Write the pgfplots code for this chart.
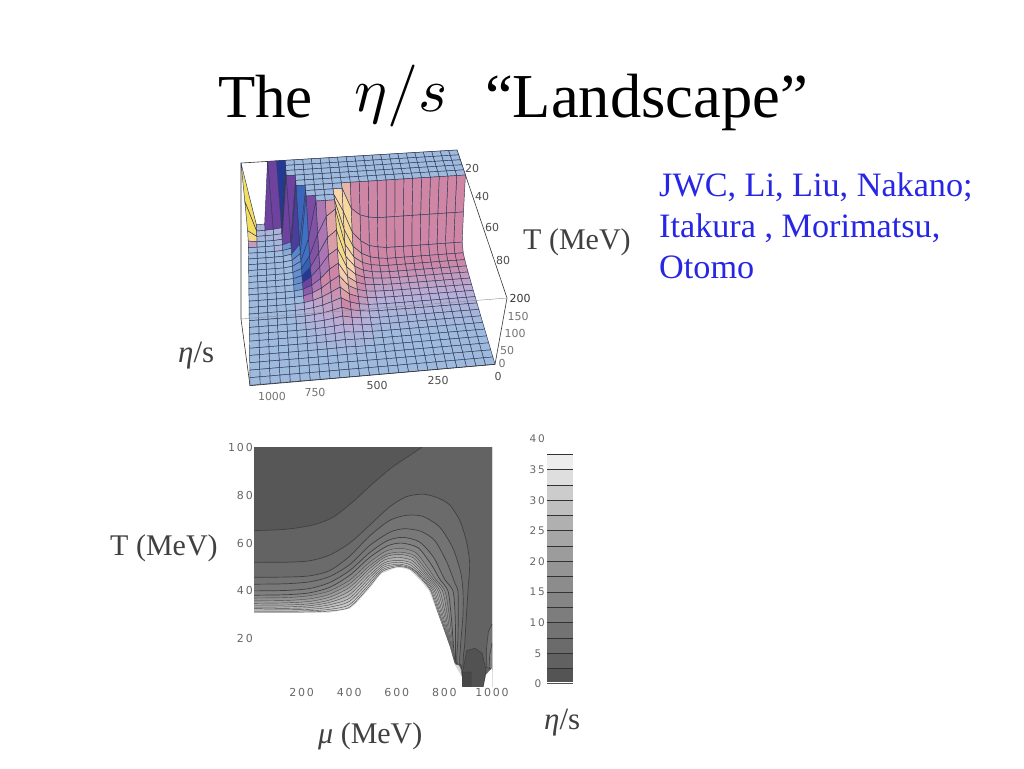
\documentclass[border=0pt]{standalone}
\usepackage{fontspec}
\setmainfont{Liberation Serif}
\newfontfamily\lab{DejaVu Sans}
\usepackage{pgfplots}
\pgfplotsset{compat=1.18}
\definecolor{bluetxt}{RGB}{38,38,228}
\newcommand\PX[2]{(#1pt,{768pt-#2pt})}
\newcommand\Sv{(1-\thisrow{m}/1000)}
\newcommand\Tv{(\thisrow{T}/100)}
\newcommand\Qv{(1-\thisrow{e}/200)}
\newcommand\Wv{(0.02667*\Sv-0.19298*\Tv+1+0.0705*\Qv)}
\pgfkeys{/pgfplots/table/proj/.style={
  x expr={(228.19*\Sv-46.51*\Tv+241+24.9*\Qv)/\Wv},
  y expr={768-(-9*\Sv+94.44*\Tv+163+81*\Qv)/\Wv},
  z expr=\thisrow{e}}}
\pgfplotsset{lev/.style={draw=black!75,line width=0.7pt,smooth,tension=0.45},
 levi/.style={draw=black!70,line width=0.42pt,smooth,tension=0.45}}
\begin{document}
\begin{tikzpicture}[x=1pt,y=1pt]
\path[use as bounding box] (0,0) rectangle (1024pt,768pt);
\begin{axis}[at={(0pt,0pt)},anchor=south west,width=1024pt,height=768pt,scale only axis,
  xmin=0,xmax=1024,ymin=0,ymax=768,zmin=0,zmax=200,view={0}{90},hide axis,clip=false,
  colormap={land}{rgb255(0cm)=(158,186,220);rgb255(1cm)=(186,174,214);rgb255(2cm)=(206,134,164);
   rgb255(3cm)=(250,214,170);rgb255(4cm)=(244,222,96);rgb255(5cm)=(172,118,178);rgb255(6cm)=(112,66,160);
   rgb255(7cm)=(36,56,150);rgb255(8cm)=(62,112,196);rgb255(9cm)=(158,186,220)},
  point meta min=0,point meta max=9]
\addplot3[black!80,line width=0.6pt,no markers] table[proj]{
m T e
1000 100 200
1000 0 200
0 0 200
0 100 200
0 100 0
};
\addplot3[surf,shader=flat corner,z buffer=none,mesh/ordering=x varies,mesh/cols=26,mesh/rows=26,
  draw={rgb,255:red,48;green,56;blue,90},line width=0.45pt,point meta=explicit]
 table[proj,meta=c,row sep=\\]{
m T e c\\
0 0 200 0\\40 0 200 0\\80 0 200 0\\120 0 200 0\\160 0 200 0\\200 0 200 0\\240 0 200 0\\280 0 200 0\\320 0 200 0\\360 0 200 0\\400 0 200 0\\440 0 200 0\\480 0 200 0\\520 0 200 0\\560 0 200 0\\600 0 200 0\\640 0 200 0\\680 0 200 0\\720 0 200 0\\760 0 200 0\\800 0 200 7\\840 0 200 6\\880 0 200 6\\920 0 9 .5\\960 0 9 4\\1000 0 200 0\\
0 4 200 0\\40 4 200 0\\80 4 200 0\\120 4 200 0\\160 4 200 0\\200 4 200 0\\240 4 200 0\\280 4 200 0\\320 4 200 0\\360 4 200 0\\400 4 200 0\\440 4 200 0\\480 4 200 0\\520 4 200 0\\560 4 200 0\\600 4 200 0\\640 4 200 0\\680 4 200 0\\720 4 200 0\\760 4 200 0\\800 4 200 7\\840 4 10 .5\\880 4 7 .5\\920 4 5.5 .5\\960 4 5 4\\1000 4 100 0\\
0 8 200 0\\40 8 200 0\\80 8 200 0\\120 8 200 0\\160 8 200 0\\200 8 200 0\\240 8 200 0\\280 8 200 0\\320 8 200 0\\360 8 200 0\\400 8 200 0\\440 8 200 0\\480 8 200 0\\520 8 200 0\\560 8 200 0\\600 8 200 0\\640 8 200 0\\680 8 200 0\\720 8 200 0\\760 8 200 0\\800 8 200 7\\840 8 8 .5\\880 8 5.5 .3\\920 8 5 .3\\960 8 4.8 3.5\\1000 8 25 0\\
0 12 200 0\\40 12 200 0\\80 12 200 0\\120 12 200 0\\160 12 200 0\\200 12 200 0\\240 12 200 0\\280 12 200 0\\320 12 200 0\\360 12 200 0\\400 12 200 0\\440 12 200 0\\480 12 200 0\\520 12 200 0\\560 12 200 0\\600 12 200 0\\640 12 200 0\\680 12 200 0\\720 12 200 0\\760 12 200 6\\800 12 200 6\\840 12 7 .3\\880 12 5 0\\920 12 4.8 0\\960 12 4.6 1.5\\1000 12 9 0\\
0 16 200 0\\40 16 200 0\\80 16 200 0\\120 16 200 0\\160 16 200 0\\200 16 200 0\\240 16 200 0\\280 16 200 0\\320 16 200 0\\360 16 200 0\\400 16 200 0\\440 16 200 0\\480 16 200 0\\520 16 200 0\\560 16 200 0\\600 16 200 0\\640 16 200 0\\680 16 200 0\\720 16 200 0\\760 16 200 6\\800 16 14 8.5\\840 16 6.5 .5\\880 16 5 0\\920 16 4.7 0\\960 16 4.6 0\\1000 16 6 0\\
0 20 200 2\\40 20 200 2\\80 20 200 2\\120 20 200 2\\160 20 200 2\\200 20 200 2\\240 20 200 2\\280 20 200 2\\320 20 200 2\\360 20 200 2\\400 20 200 2\\440 20 200 2\\480 20 200 2\\520 20 200 2.6\\560 20 200 0\\600 20 200 0\\640 20 200 0\\680 20 200 0\\720 20 200 7.8\\760 20 200 6.5\\800 20 11 8.8\\840 20 6 0\\880 20 4.8 0\\920 20 4.6 0\\960 20 4.5 0\\1000 20 5 0\\
0 24 106 2\\40 24 106 2\\80 24 106 2\\120 24 106 2\\160 24 106 2\\200 24 106 2\\240 24 106 2\\280 24 106 2\\320 24 106 2\\360 24 106 2\\400 24 106 2\\440 24 110 2\\480 24 118 2.2\\520 24 140 3.2\\560 24 200 3\\600 24 200 0\\640 24 200 0\\680 24 200 0\\720 24 200 8\\760 24 40 8.3\\800 24 10 9\\840 24 5.5 0\\880 24 4.5 0\\920 24 4.5 0\\960 24 4.5 0\\1000 24 4.5 0\\
0 28 28 2\\40 28 28 2\\80 28 28 2\\120 28 28 2\\160 28 28 2\\200 28 28 2\\240 28 28 2\\280 28 28 2\\320 28 28 2\\360 28 28 2\\400 28 32 2\\440 28 38 2\\480 28 55 2.2\\520 28 85 3.3\\560 28 150 3.3\\600 28 200 0\\640 28 200 0\\680 28 200 5.8\\720 28 200 8\\760 28 28 8.5\\800 28 8.5 0\\840 28 5 0\\880 28 4.3 0\\920 28 4.3 0\\960 28 4.3 0\\1000 28 4.3 0\\
0 32 11 2\\40 32 11 2\\80 32 11 2\\120 32 11 2\\160 32 11 2\\200 32 11 2\\240 32 11 2\\280 32 11 2\\320 32 11 2\\360 32 11 2\\400 32 14 2\\440 32 20 2.1\\480 32 33 2.3\\520 32 58 3.3\\560 32 112 3.5\\600 32 200 2.2\\640 32 200 5\\680 32 200 5.7\\720 32 90 8\\760 32 22 8.5\\800 32 7.5 0\\840 32 4.5 0\\880 32 4.1 0\\920 32 4.1 0\\960 32 4.1 0\\1000 32 4.1 0\\
0 36 7 1.9\\40 36 7 1.9\\80 36 7 1.9\\120 36 7 1.9\\160 36 7 1.9\\200 36 7 1.9\\240 36 7 1.9\\280 36 7 1.9\\320 36 7 1.9\\360 36 7 1.9\\400 36 9 1.9\\440 36 13 2\\480 36 22 2.3\\520 36 42 3\\560 36 84 3.6\\600 36 190 2.4\\640 36 170 5\\680 36 120 5.7\\720 36 55 7.7\\760 36 17 8.4\\800 36 6.5 0\\840 36 4.2 0\\880 36 4 0\\920 36 4 0\\960 36 4 0\\1000 36 4 0\\
0 40 5 1.7\\40 40 5 1.7\\80 40 5 1.7\\120 40 5 1.7\\160 40 5 1.7\\200 40 5 1.7\\240 40 5 1.7\\280 40 5 1.7\\320 40 5 1.7\\360 40 5 1.7\\400 40 6.5 1.7\\440 40 9 1.8\\480 40 16 2.1\\520 40 31 3\\560 40 64 3.5\\600 40 146 2.3\\640 40 125 5\\680 40 80 5.5\\720 40 38 7\\760 40 13 8.4\\800 40 5.5 0\\840 40 4 0\\880 40 3.8 0\\920 40 3.8 0\\960 40 3.8 0\\1000 40 3.8 0\\
0 44 4 1.5\\40 44 4 1.5\\80 44 4 1.5\\120 44 4 1.5\\160 44 4 1.5\\200 44 4 1.5\\240 44 4 1.5\\280 44 4 1.5\\320 44 4 1.5\\360 44 4 1.5\\400 44 5 1.5\\440 44 7 1.7\\480 44 12 2\\520 44 24 2.8\\560 44 50 3.2\\600 44 108 2.1\\640 44 90 5\\680 44 55 5.3\\720 44 27 6\\760 44 10 8.5\\800 44 5 0\\840 44 3.8 0\\880 44 3.6 0\\920 44 3.6 0\\960 44 3.6 0\\1000 44 3.6 0\\
0 48 3.2 1.3\\40 48 3.2 1.3\\80 48 3.2 1.3\\120 48 3.2 1.3\\160 48 3.2 1.3\\200 48 3.2 1.3\\240 48 3.2 1.3\\280 48 3.2 1.3\\320 48 3.2 1.3\\360 48 3.2 1.3\\400 48 4 1.3\\440 48 5.5 1.5\\480 48 9 1.9\\520 48 18 2.5\\560 48 38 2.9\\600 48 82 2\\640 48 65 2\\680 48 38 5\\720 48 19 5.5\\760 48 8 8.8\\800 48 4.5 0\\840 48 3.5 0\\880 48 3.4 0\\920 48 3.4 0\\960 48 3.4 0\\1000 48 3.4 0\\
0 52 2.6 1.1\\40 52 2.6 1.1\\80 52 2.6 1.1\\120 52 2.6 1.1\\160 52 2.6 1.1\\200 52 2.6 1.1\\240 52 2.6 1.1\\280 52 2.6 1.1\\320 52 2.6 1.1\\360 52 2.6 1.1\\400 52 3.2 1.1\\440 52 4.2 1.3\\480 52 7 1.7\\520 52 14 2.2\\560 52 29 2.6\\600 52 62 1.9\\640 52 46 1.8\\680 52 27 1.6\\720 52 14 5\\760 52 6.5 0\\800 52 4 0\\840 52 3.2 0\\880 52 3.2 0\\920 52 3.2 0\\960 52 3.2 0\\1000 52 3.2 0\\
0 56 2.2 .9\\40 56 2.2 .9\\80 56 2.2 .9\\120 56 2.2 .9\\160 56 2.2 .9\\200 56 2.2 .9\\240 56 2.2 .9\\280 56 2.2 .9\\320 56 2.2 .9\\360 56 2.2 .9\\400 56 2.6 .9\\440 56 3.3 1.1\\480 56 5.5 1.5\\520 56 11 2\\560 56 22 2.3\\600 56 46 1.7\\640 56 32 1.5\\680 56 19 1.3\\720 56 10 1\\760 56 5 .5\\800 56 3.5 0\\840 56 3 0\\880 56 3 0\\920 56 3 0\\960 56 3 0\\1000 56 3 0\\
0 60 1.9 .7\\40 60 1.9 .7\\80 60 1.9 .7\\120 60 1.9 .7\\160 60 1.9 .7\\200 60 1.9 .7\\240 60 1.9 .7\\280 60 1.9 .7\\320 60 1.9 .7\\360 60 1.9 .7\\400 60 2.2 .7\\440 60 2.7 .9\\480 60 4 1.2\\520 60 8 1.7\\560 60 16 2\\600 60 32 1.5\\640 60 22 1.3\\680 60 13 1.1\\720 60 7.5 .9\\760 60 4 .4\\800 60 3 0\\840 60 2.8 0\\880 60 2.8 0\\920 60 2.8 0\\960 60 2.8 0\\1000 60 2.8 0\\
0 64 1.6 .5\\40 64 1.6 .5\\80 64 1.6 .5\\120 64 1.6 .5\\160 64 1.6 .5\\200 64 1.6 .5\\240 64 1.6 .5\\280 64 1.6 .5\\320 64 1.6 .5\\360 64 1.6 .5\\400 64 1.8 .5\\440 64 2.2 .7\\480 64 3 1\\520 64 6 1.4\\560 64 12 1.6\\600 64 22 1.3\\640 64 15 1.1\\680 64 9 .9\\720 64 5.5 .7\\760 64 3.2 .3\\800 64 2.7 0\\840 64 2.5 0\\880 64 2.6 0\\920 64 2.6 0\\960 64 2.6 0\\1000 64 2.6 0\\
0 68 1.4 .3\\40 68 1.4 .3\\80 68 1.4 .3\\120 68 1.4 .3\\160 68 1.4 .3\\200 68 1.4 .3\\240 68 1.4 .3\\280 68 1.4 .3\\320 68 1.4 .3\\360 68 1.4 .3\\400 68 1.5 .3\\440 68 1.8 .5\\480 68 2.4 .8\\520 68 4.5 1.1\\560 68 8.5 1.3\\600 68 15 1.1\\640 68 10 .9\\680 68 6 .7\\720 68 4 .5\\760 68 2.6 .2\\800 68 2.4 0\\840 68 2.3 0\\880 68 2.4 0\\920 68 2.4 0\\960 68 2.4 0\\1000 68 2.4 0\\
0 72 1.2 .2\\40 72 1.2 .2\\80 72 1.2 .2\\120 72 1.2 .2\\160 72 1.2 .2\\200 72 1.2 .2\\240 72 1.2 .2\\280 72 1.2 .2\\320 72 1.2 .2\\360 72 1.2 .2\\400 72 1.3 .2\\440 72 1.5 .3\\480 72 1.9 .6\\520 72 3.3 .8\\560 72 6 1\\600 72 10 .9\\640 72 6.5 .7\\680 72 4.2 .5\\720 72 3 .3\\760 72 2.2 .1\\800 72 2.1 0\\840 72 2.1 0\\880 72 2.2 0\\920 72 2.2 0\\960 72 2.2 0\\1000 72 2.2 0\\
0 76 1 0\\40 76 1 0\\80 76 1 0\\120 76 1 0\\160 76 1 0\\200 76 1 0\\240 76 1 0\\280 76 1 0\\320 76 1 0\\360 76 1 0\\400 76 1.1 0\\440 76 1.2 .2\\480 76 1.5 .4\\520 76 2.5 .6\\560 76 4.2 .7\\600 76 7 .6\\640 76 4.5 .5\\680 76 3 .3\\720 76 2.4 .2\\760 76 1.9 0\\800 76 1.9 0\\840 76 1.9 0\\880 76 2 0\\920 76 2 0\\960 76 2 0\\1000 76 2 0\\
0 80 .9 0\\40 80 .9 0\\80 80 .9 0\\120 80 .9 0\\160 80 .9 0\\200 80 .9 0\\240 80 .9 0\\280 80 .9 0\\320 80 .9 0\\360 80 .9 0\\400 80 .9 0\\440 80 1 0\\480 80 1.2 .2\\520 80 1.9 .3\\560 80 3 .4\\600 80 4.5 .4\\640 80 3 .3\\680 80 2.2 .2\\720 80 1.9 .1\\760 80 1.6 0\\800 80 1.7 0\\840 80 1.7 0\\880 80 1.8 0\\920 80 1.8 0\\960 80 1.8 0\\1000 80 1.8 0\\
0 84 .8 0\\40 84 .8 0\\80 84 .8 0\\120 84 .8 0\\160 84 .8 0\\200 84 .8 0\\240 84 .8 0\\280 84 .8 0\\320 84 .8 0\\360 84 .8 0\\400 84 .8 0\\440 84 .9 0\\480 84 1 0\\520 84 1.4 .1\\560 84 2 .2\\600 84 3 .2\\640 84 2.2 .1\\680 84 1.7 0\\720 84 1.5 0\\760 84 1.4 0\\800 84 1.5 0\\840 84 1.5 0\\880 84 1.6 0\\920 84 1.6 0\\960 84 1.6 0\\1000 84 1.6 0\\
0 88 .7 0\\40 88 .7 0\\80 88 .7 0\\120 88 .7 0\\160 88 .7 0\\200 88 .7 0\\240 88 .7 0\\280 88 .7 0\\320 88 .7 0\\360 88 .7 0\\400 88 .7 0\\440 88 .7 0\\480 88 .8 0\\520 88 1.1 0\\560 88 1.4 0\\600 88 2 0\\640 88 1.6 0\\680 88 1.3 0\\720 88 1.2 0\\760 88 1.2 0\\800 88 1.3 0\\840 88 1.4 0\\880 88 1.5 0\\920 88 1.5 0\\960 88 1.5 0\\1000 88 1.5 0\\
0 92 .6 0\\40 92 .6 0\\80 92 .6 0\\120 92 .6 0\\160 92 .6 0\\200 92 .6 0\\240 92 .6 0\\280 92 .6 0\\320 92 .6 0\\360 92 .6 0\\400 92 .6 0\\440 92 .6 0\\480 92 .7 0\\520 92 .8 0\\560 92 1 0\\600 92 1.5 0\\640 92 1.2 0\\680 92 1 0\\720 92 1 0\\760 92 1 0\\800 92 1.1 0\\840 92 1.3 0\\880 92 1.4 0\\920 92 1.4 0\\960 92 1.4 0\\1000 92 1.4 0\\
0 96 .5 0\\40 96 .5 0\\80 96 .5 0\\120 96 .5 0\\160 96 .5 0\\200 96 .5 0\\240 96 .5 0\\280 96 .5 0\\320 96 .5 0\\360 96 .5 0\\400 96 .5 0\\440 96 .5 0\\480 96 .5 0\\520 96 .6 0\\560 96 .7 0\\600 96 1 0\\640 96 .9 0\\680 96 .8 0\\720 96 .8 0\\760 96 .9 0\\800 96 1 0\\840 96 1.2 0\\880 96 1.3 0\\920 96 1.3 0\\960 96 1.3 0\\1000 96 1.3 0\\
0 100 .4 0\\40 100 .4 0\\80 100 .4 0\\120 100 .4 0\\160 100 .4 0\\200 100 .4 0\\240 100 .4 0\\280 100 .4 0\\320 100 .4 0\\360 100 .4 0\\400 100 .4 0\\440 100 .4 0\\480 100 .4 0\\520 100 .5 0\\560 100 .5 0\\600 100 .6 0\\640 100 .6 0\\680 100 .6 0\\720 100 .7 0\\760 100 .8 0\\800 100 .9 0\\840 100 1 0\\880 100 1.2 0\\920 100 1.2 0\\960 100 1.2 0\\1000 100 1.2 0\\
};
\addplot3[black!80,line width=0.6pt,no markers] table[proj]{
m T e
0 100 0
1000 100 0
1000 100 200
};
\addplot3[black!45,line width=0.4pt,no markers] table[proj]{
m T e
1000 100 200
0 100 200
};
\end{axis}
% contour plot
\begin{axis}[at={(254pt,81.5pt)},anchor=south west,width=238pt,height=239pt,scale only axis,
  xmin=0,xmax=1000,ymin=0,ymax=100,axis line style={draw=none},major tick length=0pt,
  xtick={200,400,600,800,1000},xticklabels={2\,0\,0,4\,0\,0,6\,0\,0,8\,0\,0,1\,0\,0\,0},
  ytick={20,40,60,80,100},yticklabels={2\,0,4\,0,6\,0,8\,0,1\,0\,0},
  tick label style={font=\lab\fontsize{11}{11}\selectfont,text=black!60,inner sep=1pt},
  xticklabel style={yshift=-1pt},
  clip=true,axis on top=false]
\addplot[draw=none,fill=black!66] coordinates {(-50,-50)(1050,-50)(1050,110)(-50,110)} -- cycle;
\addplot[lev,fill=black!61] coordinates {(-50,65)(0,65.2)(136,65.8)(248,67.6)(332,70.8)(416,77.3)(500,85)(584,92)(703,100)(760,106)(1050,110)(1050,-50)(-50,-50)} -- cycle;
\addplot[lev,fill=black!58] coordinates {(-50,52)(0,52)(136,52)(234,52.6)(318,55)(402,60)(486,67.5)(570,75.2)(640,79.4)(709,80.5)(770,79)(822,76)(864,69.6)(892,61)(906,51.5)(899,40)(892,29)(885,17)(878,7)(878,-50)(-50,-50)} -- cycle;
\addplot[lev,fill=black!55] coordinates {(-50,45.7)(0,45.7)(136,45.8)(234,46.3)(318,48.5)(402,54.5)(486,63)(570,69.5)(640,71.6)(709,71.2)(781,66.6)(835,58)(868,48)(878,40)(878,30)(870,20)(864,10)(874,4)(874,-50)(-50,-50)} -- cycle;
\addplot[lev,fill=black!53] coordinates {(-50,42.8)(0,42.8)(136,43)(234,43.8)(318,46)(402,51)(486,59)(570,64.5)(630,66)(700,65)(760,61)(810,52)(845,43)(857,40)(858,30)(857,20)(852,10)(874,4)(874,-50)(-50,-50)} -- cycle;
\addplot[lev,fill=black!50] coordinates {(-50,40)(0,40)(136,40.2)(234,41)(318,43.5)(402,48.5)(486,56)(560,61)(625,62.4)(695,60.5)(755,54)(800,45)(836,40)(845,30)(847,20)(848,10)(874,4)(874,-50)(-50,-50)} -- cycle;
\addplot[lev,fill=black!47] coordinates {(-50,38.2)(0,38.2)(136,38.4)(234,39.2)(318,41.5)(402,46.5)(486,54)(560,58.8)(620,60)(690,58)(745,51)(780,45)(815,40)(828,30)(836,20)(845,10)(874,4)(874,-50)(-50,-50)} -- cycle;
\addplot[levi,fill=black!43] coordinates {(-50,37)(0,37)(136,37.2)(234,38)(318,40)(402,44.5)(486,52)(555,56.7)(616,57.8)(680,56)(735,49)(762,45)(802,40)(820,30)(832,20)(844,10)(874,4)(874,-50)(-50,-50)} -- cycle;
\addplot[levi,fill=black!39] coordinates {(-50,35.8)(0,35.8)(136,36)(234,36.7)(318,38.6)(402,43)(486,50.5)(555,55.2)(614,56.2)(675,54.7)(724,48.7)(752,45)(792,40)(812,30)(827,20)(843,10)(874,4)(874,-50)(-50,-50)} -- cycle;
\addplot[levi,fill=black!35] coordinates {(-50,34.8)(0,34.8)(136,35)(234,35.6)(318,37.4)(402,41.5)(486,49.3)(552,54.2)(612,55.3)(670,53.8)(715,48.5)(743,45)(781,40)(805,30)(823,20)(842,10)(874,4)(874,-50)(-50,-50)} -- cycle;
\addplot[levi,fill=black!31] coordinates {(-50,34)(0,34)(136,34.1)(234,34.6)(318,36.2)(402,40)(486,48)(550,53)(610,54)(665,52.7)(705,48.6)(735,45)(773,40)(799,30)(820,20)(842,10)(874,4)(874,-50)(-50,-50)} -- cycle;
\addplot[levi,fill=black!28] coordinates {(-50,33.2)(0,33.2)(136,33.3)(234,33.8)(318,35.2)(402,38.5)(486,46.7)(548,51.8)(608,52.8)(660,51.8)(695,48.6)(727,45)(765,40)(793,30)(818,20)(841,10)(874,4)(874,-50)(-50,-50)} -- cycle;
\addplot[levi,fill=black!25] coordinates {(-50,32.6)(0,32.6)(136,32.7)(234,33)(318,34.2)(402,37)(486,45.5)(545,50.8)(606,52)(655,51)(686,48.5)(720,45)(758,40)(788,30)(816,20)(841,10)(874,4)(874,-50)(-50,-50)} -- cycle;
\addplot[levi,fill=black!22] coordinates {(-50,32)(0,32)(136,32.1)(234,32.3)(318,33.2)(402,35.7)(486,44.2)(542,49.8)(604,51.2)(650,50.3)(680,48.3)(714,45)(752,40)(783,30)(814,20)(841,10)(874,4)(874,-50)(-50,-50)} -- cycle;
\addplot[levi,fill=black!19] coordinates {(-50,31.5)(0,31.5)(136,31.5)(234,31.7)(318,32.3)(402,34.3)(486,43)(540,48.9)(602,50.6)(645,50)(672,48.6)(708,45)(746,40)(780,30)(813,20)(841,10)(874,4)(874,-50)(-50,-50)} -- cycle;
\addplot[levi,fill=black!16] coordinates {(-50,31.1)(0,31.1)(136,31.1)(234,31.2)(318,31.6)(402,33.2)(486,42)(538,48.1)(600,50.1)(640,49.8)(665,48.6)(703,45)(742,40)(776,30)(811.5,20)(841,10)(874,4)(874,-50)(-50,-50)} -- cycle;
\addplot[draw=none,fill=white] coordinates {(-50,30.8)(0,30.8)(136,30.8)(234,30.8)(318,30.9)(402,32.5)(430,34.8)(486,41)(535,47.2)(598,49.7)(632,49.4)(655,48.6)(697,44.5)(735,40)(781,28)(823,16.5)(844,9)(873,4)(874,-50)(-50,-50)} -- cycle;
\addplot[draw=black!75,line width=0.6pt,fill=black!55] coordinates {(1050,26)(1000,26)(985,23)(977,16)(978,8)(1000,7)(1050,7)} -- cycle;
\addplot[draw=black!75,line width=0.6pt,fill=black!50] coordinates {(1050,18)(1000,18)(990,13)(988,8)(1000,7)(1050,7)} -- cycle;
\addplot[draw=black!75,line width=0.6pt,fill=black!68] coordinates {(876,6)(894,15)(928,16)(958,14)(975,7)(955,-5)(878,-5)} -- cycle;
\addplot[draw=black!75,line width=0.5pt,fill=black!72] coordinates {(876,6)(912,6)(912,-5)(878,-5)} -- cycle;
\addplot[draw=none,fill=white] coordinates {(955,-5)(975,5)(1000,7.6)(1050,7.6)(1050,-5)} -- cycle;
\end{axis}
% grey scale key
\begin{axis}[at={(547pt,84pt)},anchor=south west,width=26pt,height=245pt,scale only axis,
  xmin=0,xmax=1,ymin=0,ymax=40,axis line style={draw=none},major tick length=0pt,
  xtick=\empty,ytick={0,5,...,40},
  yticklabels={0\,\,,5\,\,,1\,0,1\,5,2\,0,2\,5,3\,0,3\,5,4\,0},
  tick label style={font=\lab\fontsize{10.5}{11}\selectfont,text=black!60,inner sep=2pt},
  clip=false]
\addplot[draw=none,fill=black!67] coordinates {(0,0)(1,0)(1,2.5)(0,2.5)} -- cycle;
\addplot[draw=none,fill=black!62] coordinates {(0,2.5)(1,2.5)(1,5)(0,5)} -- cycle;
\addplot[draw=none,fill=black!58] coordinates {(0,5)(1,5)(1,7.5)(0,7.5)} -- cycle;
\addplot[draw=none,fill=black!55] coordinates {(0,7.5)(1,7.5)(1,10)(0,10)} -- cycle;
\addplot[draw=none,fill=black!51] coordinates {(0,10)(1,10)(1,12.5)(0,12.5)} -- cycle;
\addplot[draw=none,fill=black!48] coordinates {(0,12.5)(1,12.5)(1,15)(0,15)} -- cycle;
\addplot[draw=none,fill=black!45] coordinates {(0,15)(1,15)(1,17.5)(0,17.5)} -- cycle;
\addplot[draw=none,fill=black!42] coordinates {(0,17.5)(1,17.5)(1,20)(0,20)} -- cycle;
\addplot[draw=none,fill=black!39] coordinates {(0,20)(1,20)(1,22.5)(0,22.5)} -- cycle;
\addplot[draw=none,fill=black!35] coordinates {(0,22.5)(1,22.5)(1,25)(0,25)} -- cycle;
\addplot[draw=none,fill=black!31] coordinates {(0,25)(1,25)(1,27.5)(0,27.5)} -- cycle;
\addplot[draw=none,fill=black!25] coordinates {(0,27.5)(1,27.5)(1,30)(0,30)} -- cycle;
\addplot[draw=none,fill=black!20] coordinates {(0,30)(1,30)(1,32.5)(0,32.5)} -- cycle;
\addplot[draw=none,fill=black!13] coordinates {(0,32.5)(1,32.5)(1,35)(0,35)} -- cycle;
\addplot[draw=none,fill=black!7] coordinates {(0,35)(1,35)(1,37.5)(0,37.5)} -- cycle;
\addplot[white,line width=0.9pt] coordinates {(0,0.25)(1,0.25)};
\addplot[black!80,line width=0.8pt] coordinates {(0,2.5)(1,2.5)};
\addplot[black!80,line width=0.8pt] coordinates {(0,5)(1,5)};
\addplot[black!80,line width=0.8pt] coordinates {(0,7.5)(1,7.5)};
\addplot[black!80,line width=0.8pt] coordinates {(0,10)(1,10)};
\addplot[black!80,line width=0.8pt] coordinates {(0,12.5)(1,12.5)};
\addplot[black!80,line width=0.8pt] coordinates {(0,15)(1,15)};
\addplot[black!80,line width=0.8pt] coordinates {(0,17.5)(1,17.5)};
\addplot[black!80,line width=0.8pt] coordinates {(0,20)(1,20)};
\addplot[black!80,line width=0.8pt] coordinates {(0,22.5)(1,22.5)};
\addplot[black!80,line width=0.8pt] coordinates {(0,25)(1,25)};
\addplot[black!80,line width=0.8pt] coordinates {(0,27.5)(1,27.5)};
\addplot[black!80,line width=0.8pt] coordinates {(0,30)(1,30)};
\addplot[black!80,line width=0.8pt] coordinates {(0,32.5)(1,32.5)};
\addplot[black!80,line width=0.8pt] coordinates {(0,35)(1,35)};
\addplot[black!80,line width=0.8pt] coordinates {(0,37.5)(1,37.5)};
\end{axis}
% title
\node[anchor=base west,inner sep=0pt,font=\fontsize{61}{61}\selectfont] at \PX{218}{118} {The};
\node[anchor=base west,inner sep=0pt,scale=6.2] at \PX{353}{112} {$\eta/s$};
\node[anchor=base west,inner sep=0pt,font=\fontsize{62.5}{62.5}\selectfont] at \PX{485}{118} {“Landscape”};
% credit
\node[anchor=base west,inner sep=0pt,text=bluetxt,font=\fontsize{34.2}{34.2}\selectfont] at \PX{659}{197} {JWC, Li, Liu, Nakano;};
\node[anchor=base west,inner sep=0pt,text=bluetxt,font=\fontsize{34.2}{34.2}\selectfont] at \PX{659}{238} {Itakura , Morimatsu,};
\node[anchor=base west,inner sep=0pt,text=bluetxt,font=\fontsize{34.2}{34.2}\selectfont] at \PX{659}{279} {Otomo};
% axis titles
\node[anchor=base west,inner sep=0pt,text=black!75,font=\fontsize{30}{30}\selectfont] at \PX{523}{250} {T (MeV)};
\node[anchor=base west,inner sep=0pt,text=black!75,font=\fontsize{30}{30}\selectfont] at \PX{110}{556} {T (MeV)};
\node[anchor=base west,inner sep=0pt,text=black!75,font=\fontsize{31}{31}\selectfont] at \PX{178}{363} {{\itshape η}/s};
\node[anchor=base west,inner sep=0pt,text=black!75,font=\fontsize{31}{31}\selectfont] at \PX{544}{729} {{\itshape η}/s};
\node[anchor=base west,inner sep=0pt,text=black!75,font=\fontsize{30}{30}\selectfont] at \PX{318}{743} {{\itshape μ} (MeV)};
% 3D tick labels
\begin{scope}[every node/.style={inner sep=0pt,font=\lab\fontsize{11}{11}\selectfont,text=black!70}]
\node at \PX{472}{169} {20};
\node at \PX{482}{197} {40};
\node at \PX{492}{228} {60};
\node at \PX{503}{261} {80};
\node[text=black!80] at \PX{520}{299} {200};
\node[text=black!55] at \PX{518}{317} {150};
\node[text=black!55] at \PX{515}{334} {100};
\node[text=black!55] at \PX{507}{351} {50};
\node[text=black!55] at \PX{502}{364} {0};
\node at \PX{498}{376} {0};
\node[text=black!55] at \PX{272}{396} {1000};
\node[text=black!55] at \PX{315}{392} {750};
\node at \PX{377}{386} {500};
\node at \PX{438}{380} {250};
\end{scope}
\end{tikzpicture}
\end{document}
